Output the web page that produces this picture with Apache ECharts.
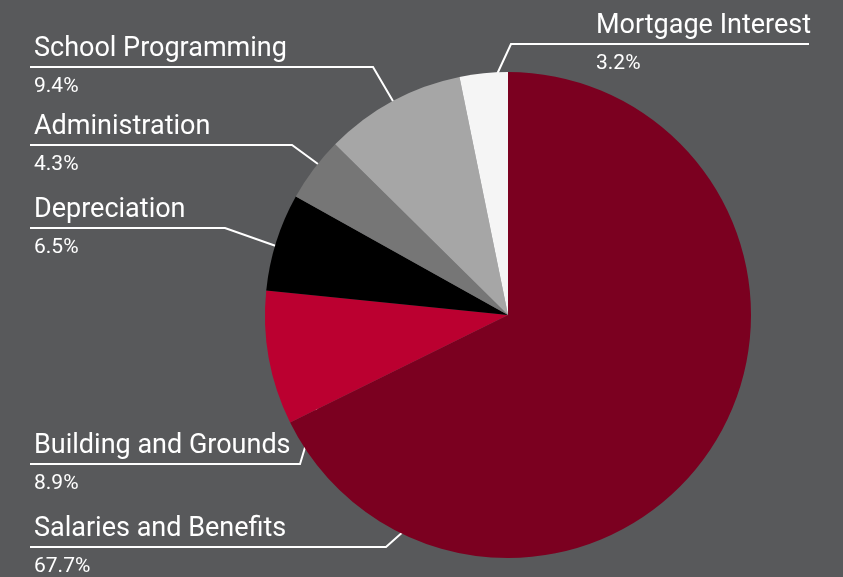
<!DOCTYPE html>
<html>
<head>
<meta charset="utf-8">
<script src="https://cdn.jsdelivr.net/npm/echarts@6/dist/echarts.min.js"></script>
<style>
  html, body { margin: 0; padding: 0; background: #58595b; }
  #chart { width: 843px; height: 577px; }
</style>
</head>
<body>
<div id="chart"></div>
<script>
// ---- data ----
var categories = ['Salaries and Benefits', 'Building and Grounds', 'Depreciation', 'Administration', 'School Programming', 'Mortgage Interest'];
var shares = [67.7, 8.9, 6.5, 4.3, 9.4, 3.2];

// ---- style ----
var sliceColors = ['#7b0020', '#bb0030', '#000000', '#767676', '#a6a6a6', '#f5f5f5'];
// label guide layout (pixels): start point inside slice, elbow, line end, text x
var guides = {
  'Mortgage Interest':     { start: [492, 85],  elbow: [511, 44],  endX: 809, textX: 596 },
  'School Programming':    { start: [407, 125], elbow: [373, 67],  endX: 30,  textX: 34 },
  'Administration':        { start: [333, 175], elbow: [292, 145], endX: 30,  textX: 34 },
  'Depreciation':          { start: [293, 252], elbow: [225, 228], endX: 30,  textX: 34 },
  'Building and Grounds':  { start: [323, 388], elbow: [300, 464], endX: 30,  textX: 34 },
  'Salaries and Benefits': { start: [451, 489], elbow: [386, 547], endX: 30,  textX: 34 }
};

var chart = echarts.init(document.getElementById('chart'), null, { renderer: 'canvas' });

var pieData = categories.map(function (c, i) {
  return { name: c, value: shares[i], itemStyle: { color: sliceColors[i] } };
});

chart.setOption({
  backgroundColor: '#58595b',
  animation: false,
  textStyle: { fontFamily: 'Roboto' },
  series: [{
    type: 'pie',
    center: [508, 315],
    radius: [0, 243],
    startAngle: 90,
    clockwise: true,
    data: pieData,
    itemStyle: { borderWidth: 0 },
    emphasis: { disabled: true },
    label: {
      show: true,
      position: 'outside',
      overflow: 'none',
      formatter: function (p) {
        return '{name|' + p.name + '}\n{pct|' + p.value.toFixed(1) + '%}';
      },
      rich: {
        name: { fontSize: 27, lineHeight: 36, color: '#ffffff', fontFamily: 'Roboto' },
        pct: { fontSize: 21, lineHeight: 40, color: '#ffffff', fontFamily: 'Roboto' }
      }
    },
    labelLine: { show: true, lineStyle: { color: '#ffffff', width: 2 } },
    labelLayout: function (params) {
      var name = categories[params.dataIndex];
      var g = guides[name];
      var lineY = g.elbow[1];
      return {
        x: g.textX,
        y: lineY - 36,
        width: 400,
        align: 'left',
        verticalAlign: 'top',
        labelLinePoints: [g.start, g.elbow, [g.endX, lineY]]
      };
    }
  }]
});
</script>
</body>
</html>
